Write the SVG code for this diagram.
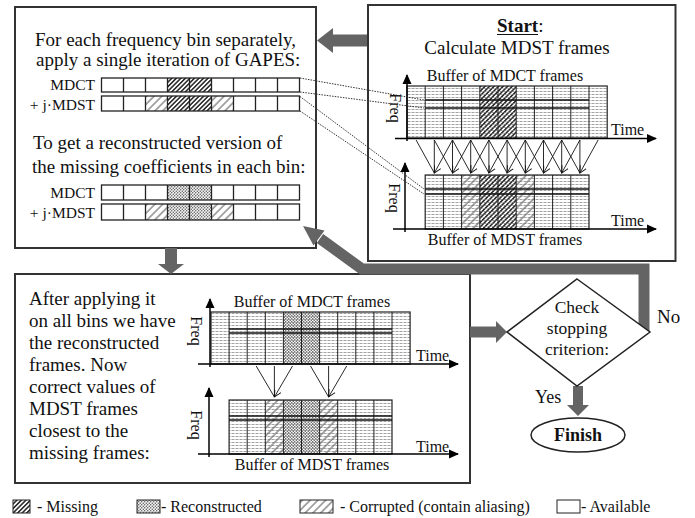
<svg xmlns="http://www.w3.org/2000/svg" width="695" height="518" viewBox="0 0 695 518">
<style>
text{font-family:"Liberation Serif","Times New Roman",serif;fill:#111}
.t19{font-size:19px}
.t16{font-size:16px}
.t15{font-size:15.5px}
.box{fill:#fff;stroke:#333;stroke-width:2}
.grid{fill:none;stroke:#222;stroke-width:1}
.frame{fill:none;stroke:#222;stroke-width:1.2}
.bin{fill:none;stroke:#111;stroke-width:1.3}
.axis{fill:none;stroke:#000;stroke-width:1.5;marker-end:url(#axh)}
.arr{fill:none;stroke:#111;stroke-width:0.9;marker-end:url(#ah)}
.dot{fill:none;stroke:#333;stroke-width:1;stroke-dasharray:1.5 1.2}
.band{fill:none;stroke:#646464;stroke-linejoin:miter}
.head{fill:#646464}
.cell{fill:none;stroke:#222;stroke-width:1.3}
</style>
<defs>
<pattern id="miss" width="3.2" height="3.2" patternUnits="userSpaceOnUse" patternTransform="rotate(45)"><rect width="3.2" height="3.2" fill="#fff"/><line x1="0.8" y1="0" x2="0.8" y2="3.2" stroke="#111" stroke-width="1.4"/></pattern>
<pattern id="corr" width="5.5" height="5.5" patternUnits="userSpaceOnUse" patternTransform="rotate(45)"><rect width="5.5" height="5.5" fill="#fff"/><line x1="1" y1="0" x2="1" y2="5.5" stroke="#8c8c8c" stroke-width="1.5"/></pattern>
<pattern id="recon" width="3" height="3" patternUnits="userSpaceOnUse"><rect width="3" height="3" fill="#f4f4f4"/><circle cx="0.75" cy="0.75" r="0.65" fill="#444"/><circle cx="2.25" cy="2.25" r="0.65" fill="#444"/></pattern>
<pattern id="hl" width="4" height="3" patternUnits="userSpaceOnUse"><line x1="0" y1="1.5" x2="4" y2="1.5" stroke="#7a7a7a" stroke-width="0.7" stroke-dasharray="2.5 1"/></pattern>
<marker id="axh" markerWidth="10" markerHeight="10" refX="9" refY="5" orient="auto" markerUnits="userSpaceOnUse"><path d="M0,0.5 L10,5 L0,9.5 z" fill="#000"/></marker>
<marker id="ah" markerWidth="9" markerHeight="9" refX="7" refY="4.5" orient="auto" markerUnits="userSpaceOnUse"><path d="M0,1 L7,4.5 L0,8" fill="none" stroke="#111" stroke-width="0.9"/></marker>
</defs>

<!-- Box 1: GAPES -->
<g id="box-gapes">
<rect class="box" x="15" y="7" width="301" height="241"/>
<text class="t19" x="35" y="46">For each frequency bin separately,</text>
<text class="t19" x="36" y="65.5">apply a single iteration of GAPES:</text>
<text class="t15" x="95" y="90" text-anchor="end">MDCT</text>
<text class="t15" x="95" y="109.5" text-anchor="end">+ j·MDST</text>
<rect x="101.5" y="78" width="198" height="14" fill="#fff"/>
<rect x="167.5" y="78" width="44" height="14" fill="url(#miss)"/>
<path class="cell" d="M123.5,78V92M145.5,78V92M167.5,78V92M189.5,78V92M211.5,78V92M233.5,78V92M255.5,78V92M277.5,78V92"/>
<rect class="cell" x="101.5" y="78" width="198" height="14"/>
<rect x="101.5" y="96" width="198" height="15" fill="#fff"/>
<rect x="145.5" y="96" width="22" height="15" fill="url(#corr)"/>
<rect x="167.5" y="96" width="44" height="15" fill="url(#miss)"/>
<rect x="211.5" y="96" width="22" height="15" fill="url(#corr)"/>
<path class="cell" d="M123.5,96V111M145.5,96V111M167.5,96V111M189.5,96V111M211.5,96V111M233.5,96V111M255.5,96V111M277.5,96V111"/>
<rect class="cell" x="101.5" y="96" width="198" height="15"/>
<text class="t19" x="33" y="149">To get a reconstructed version of</text>
<text class="t19" x="32" y="173">the missing coefficients in each bin:</text>
<text class="t15" x="95" y="198" text-anchor="end">MDCT</text>
<text class="t15" x="95" y="218" text-anchor="end">+ j·MDST</text>
<rect x="101.5" y="185" width="198" height="15" fill="#fff"/>
<rect x="167.5" y="185" width="44" height="15" fill="url(#recon)"/>
<path class="cell" d="M123.5,185V200M145.5,185V200M167.5,185V200M189.5,185V200M211.5,185V200M233.5,185V200M255.5,185V200M277.5,185V200"/>
<rect class="cell" x="101.5" y="185" width="198" height="15"/>
<rect x="101.5" y="204" width="198" height="16" fill="#fff"/>
<rect x="145.5" y="204" width="22" height="16" fill="url(#corr)"/>
<rect x="167.5" y="204" width="44" height="16" fill="url(#recon)"/>
<rect x="211.5" y="204" width="22" height="16" fill="url(#corr)"/>
<path class="cell" d="M123.5,204V220M145.5,204V220M167.5,204V220M189.5,204V220M211.5,204V220M233.5,204V220M255.5,204V220M277.5,204V220"/>
<rect class="cell" x="101.5" y="204" width="198" height="16"/>
</g>

<!-- Box 2: Start -->
<g id="box-start">
<rect class="box" x="368" y="5" width="307.5" height="256"/>
<text class="t19" x="497" y="32"><tspan font-weight="bold">Start</tspan>:</text>
<line x1="497" y1="34.5" x2="538" y2="34.5" stroke="#111" stroke-width="1.2"/>
<text class="t19" x="517" y="54" text-anchor="middle">Calculate MDST frames</text>
<text class="t16" x="505" y="81" text-anchor="middle">Buffer of MDCT frames</text>
<rect x="407" y="86" width="200.2" height="52" fill="#fff"/>
<rect x="479.8" y="86" width="36.4" height="52" fill="url(#miss)"/>
<rect x="407" y="86" width="200.2" height="52" fill="url(#hl)"/>
<path class="grid" d="M425.2,86V138M443.4,86V138M461.6,86V138M479.8,86V138M498,86V138M516.2,86V138M534.4,86V138M552.6,86V138M570.8,86V138M589,86V138"/>
<rect class="frame" x="407" y="86" width="200.2" height="52"/>
<path class="bin" d="M425.2,100H589M425.2,108H589"/>
<path class="axis" d="M407,141V75"/>
<path class="axis" d="M395,138.5H656"/>
<text class="t16" transform="translate(390,108) rotate(90)" text-anchor="middle">Freq</text>
<text class="t16" x="611" y="135">Time</text>
<g>
<path class="arr" d="M416.1,140L434.3,173M434.3,140L434.3,173M452.5,140L434.3,173"/>
<path class="arr" d="M434.3,140L452.5,173M452.5,140L452.5,173M470.7,140L452.5,173"/>
<path class="arr" d="M452.5,140L470.7,173M470.7,140L470.7,173M488.9,140L470.7,173"/>
<path class="arr" d="M470.7,140L488.9,173M488.9,140L488.9,173M507.1,140L488.9,173"/>
<path class="arr" d="M488.9,140L507.1,173M507.1,140L507.1,173M525.3,140L507.1,173"/>
<path class="arr" d="M507.1,140L525.3,173M525.3,140L525.3,173M543.5,140L525.3,173"/>
<path class="arr" d="M525.3,140L543.5,173M543.5,140L543.5,173M561.7,140L543.5,173"/>
<path class="arr" d="M543.5,140L561.7,173M561.7,140L561.7,173M579.9,140L561.7,173"/>
<path class="arr" d="M561.7,140L579.9,173M579.9,140L579.9,173M598.1,140L579.9,173"/>
</g>
<rect x="425.2" y="175" width="163.8" height="54" fill="#fff"/>
<rect x="461.6" y="175" width="18.2" height="54" fill="url(#corr)"/>
<rect x="479.8" y="175" width="36.4" height="54" fill="url(#miss)"/>
<rect x="516.2" y="175" width="18.2" height="54" fill="url(#corr)"/>
<rect x="425.2" y="175" width="163.8" height="54" fill="url(#hl)"/>
<path class="grid" d="M443.4,175V229M461.6,175V229M479.8,175V229M498,175V229M516.2,175V229M534.4,175V229M552.6,175V229M570.8,175V229"/>
<rect class="frame" x="425.2" y="175" width="163.8" height="54"/>
<path class="bin" d="M425.2,189H589M425.2,194H589"/>
<path class="axis" d="M405,232V163"/>
<path class="axis" d="M393,229H656"/>
<text class="t16" transform="translate(389,198) rotate(90)" text-anchor="middle">Freq</text>
<text class="t16" x="611" y="226">Time</text>
<text class="t16" x="505" y="245" text-anchor="middle">Buffer of MDST frames</text>
</g>

<!-- Box 3: apply -->
<g id="box-apply">
<rect class="box" x="15" y="274" width="455" height="209"/>
<text class="t19" x="29" y="305">After applying it</text>
<text class="t19" x="29" y="327">on all bins we have</text>
<text class="t19" x="29" y="349">the reconstructed</text>
<text class="t19" x="29" y="371">frames. Now</text>
<text class="t19" x="29" y="393">correct values of</text>
<text class="t19" x="29" y="415">MDST frames</text>
<text class="t19" x="29" y="437">closest to the</text>
<text class="t19" x="29" y="459">missing frames:</text>
<text class="t16" x="312" y="307" text-anchor="middle">Buffer of MDCT frames</text>
<rect x="211" y="312" width="199.1" height="52" fill="#fff"/>
<rect x="283.4" y="312" width="36.2" height="52" fill="url(#recon)"/>
<rect x="211" y="312" width="199.1" height="52" fill="url(#hl)"/>
<path class="grid" d="M229.1,312V364M247.2,312V364M265.3,312V364M283.4,312V364M301.5,312V364M319.6,312V364M337.7,312V364M355.8,312V364M373.9,312V364M392,312V364"/>
<rect class="frame" x="211" y="312" width="199.1" height="52"/>
<path class="bin" d="M229.1,329H392M229.1,333H392"/>
<path class="axis" d="M210,367V299"/>
<path class="axis" d="M198,364H458"/>
<text class="t16" transform="translate(191,331) rotate(90)" text-anchor="middle">Freq</text>
<text class="t16" x="416" y="361">Time</text>
<path class="arr" d="M256.2,366L274.4,397M274.4,366L274.4,397M292.5,366L274.4,397"/>
<path class="arr" d="M310.5,366L328.6,397M328.6,366L328.6,397M346.7,366L328.6,397"/>
<rect x="229.1" y="400" width="162.9" height="54" fill="#fff"/>
<rect x="265.3" y="400" width="18.1" height="54" fill="url(#corr)"/>
<rect x="283.4" y="400" width="36.2" height="54" fill="url(#recon)"/>
<rect x="319.6" y="400" width="18.1" height="54" fill="url(#corr)"/>
<rect x="229.1" y="400" width="162.9" height="54" fill="url(#hl)"/>
<path class="grid" d="M247.2,400V454M265.3,400V454M283.4,400V454M301.5,400V454M319.6,400V454M337.7,400V454M355.8,400V454M373.9,400V454"/>
<rect class="frame" x="229.1" y="400" width="162.9" height="54"/>
<path class="bin" d="M229.1,416H392M229.1,420H392"/>
<path class="axis" d="M209,457V388"/>
<path class="axis" d="M198,454H458"/>
<text class="t16" transform="translate(191,425) rotate(90)" text-anchor="middle">Freq</text>
<text class="t16" x="416" y="452">Time</text>
<text class="t16" x="312" y="470" text-anchor="middle">Buffer of MDST frames</text>
</g>

<!-- Connectors -->
<g id="connectors">
<path class="dot" d="M300,78L424,100M300,92L424,108M300,96.5L424,189M300,111L424,194"/>
<path class="band" stroke-width="12" d="M367,40.5H331"/>
<polygon class="head" points="317,40.5 333,28 333,53"/>
<path class="band" stroke-width="12" d="M171,248V265"/>
<polygon class="head" points="158,264 184,264 171,274"/>
<path class="band" stroke-width="11" d="M470,332H497"/>
<polygon class="head" points="496,321 496,343 507,332"/>
<path class="band" stroke-width="11" d="M644,331V269H362L320,238.5"/>
<polygon class="head" points="303,226 324.5,230.5 313.5,245.5"/>
<path class="band" stroke-width="10" d="M578,386V406"/>
<polygon class="head" points="567,405 589,405 578,416"/>
</g>

<!-- Decision -->
<g id="decision">
<polygon points="577,279 650,332 577,386 507,332" fill="#fff" stroke="#222" stroke-width="1.5"/>
<text x="577" y="313" text-anchor="middle" font-size="17.5px">Check</text>
<text x="577" y="334" text-anchor="middle" font-size="17.5px">stopping</text>
<text x="577" y="355" text-anchor="middle" font-size="17.5px">criterion:</text>
<text class="t19" x="657" y="323">No</text>
<text x="535" y="403" font-size="18px">Yes</text>
</g>

<!-- Finish -->
<g id="finish">
<ellipse cx="578" cy="435" rx="47" ry="17" fill="#fff" stroke="#222" stroke-width="1.5"/>
<text x="578" y="441" text-anchor="middle" font-size="18px" font-weight="bold">Finish</text>
</g>

<!-- Legend -->
<g id="legend">
<rect x="13" y="500" width="17" height="13" fill="url(#miss)" stroke="#222" stroke-width="1"/>
<text class="t16" x="37" y="512">- Missing</text>
<rect x="137" y="500" width="23" height="13" fill="url(#recon)" stroke="#222" stroke-width="1"/>
<text class="t16" x="161" y="512">- Reconstructed</text>
<rect x="300" y="500" width="33" height="13" fill="url(#corr)" stroke="#222" stroke-width="1"/>
<text class="t16" x="340" y="512">- Corrupted (contain aliasing)</text>
<rect x="557" y="500" width="23" height="13" fill="#fff" stroke="#222" stroke-width="1"/>
<text class="t16" x="581" y="512">- Available</text>
</g>
</svg>
